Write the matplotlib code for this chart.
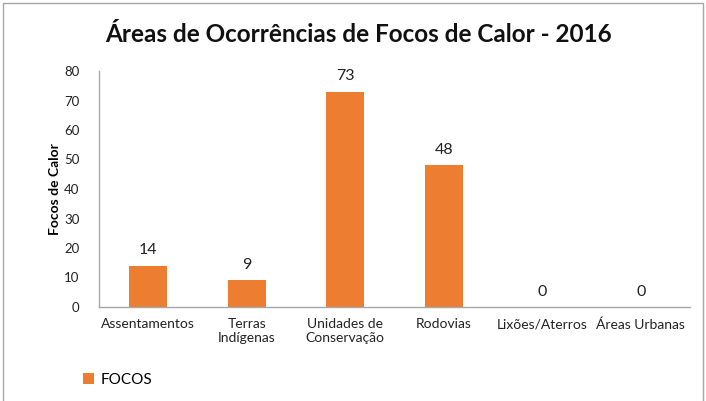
import matplotlib
matplotlib.use("Agg")
import matplotlib.pyplot as plt
from matplotlib.patches import Rectangle

categories = ["Assentamentos", "Terras\nIndígenas", "Unidades de\nConservação", "Rodovias", "Lixões/Aterros", "Áreas Urbanas"]
focos = [14, 9, 73, 48, 0, 0]
yticks = [0, 10, 20, 30, 40, 50, 60, 70, 80]

plt.rcParams['font.family'] = ['Lato', 'DejaVu Sans']
orange = "#ED7D31"

fig = plt.figure(figsize=(7.06, 4.01), dpi=100)
W, H = 706, 401
ax = fig.add_axes([99 / W, 1 - 307 / H, (690 - 99) / W, (307 - 71) / H])

x = list(range(len(categories)))
bars = ax.bar(x, focos, width=0.39, color=orange, label="FOCOS")
for xi, v in zip(x, focos):
    ax.annotate(str(v), (xi, v), xytext=(0, 6), textcoords="offset points",
                ha="center", va="bottom", fontsize=11.5, color="#222222")

ax.set_xlim(-0.5, len(categories) - 0.5)
ax.set_ylim(0, 80)
ax.set_yticks(yticks)
ax.set_xticks(x)
ax.set_xticklabels(categories, fontsize=10, color="#222222")
ax.tick_params(axis="y", labelsize=9.5, length=0, pad=14, labelcolor="#222222")
ax.tick_params(axis="x", length=0, pad=8)
for s in ["top", "right"]:
    ax.spines[s].set_visible(False)
for s in ["left", "bottom"]:
    ax.spines[s].set_color("#A6A6A6")
    ax.spines[s].set_linewidth(1.0)
ax.set_ylabel("Focos de Calor", fontsize=10, fontweight="bold", labelpad=2)

fig.text(358 / W, 1 - 35 / H, "Áreas de Ocorrências de Focos de Calor - 2016",
         ha="center", va="center", fontsize=17.5, fontweight="bold", color="#111111")

fig.legend(handles=[bars], labels=["FOCOS"], loc="center left",
           bbox_to_anchor=(69 / W, 1 - 380 / H), frameon=False,
           fontsize=11, handlelength=0.75, handleheight=0.75, handletextpad=0.4)

fig.patches.append(Rectangle((3 / W, -0.05), (703 - 3) / W, 1 - 3 / H + 0.05,
                             transform=fig.transFigure, fill=False,
                             edgecolor="#A6A6A6", linewidth=1.0))

fig.savefig("out.png", dpi=100)
